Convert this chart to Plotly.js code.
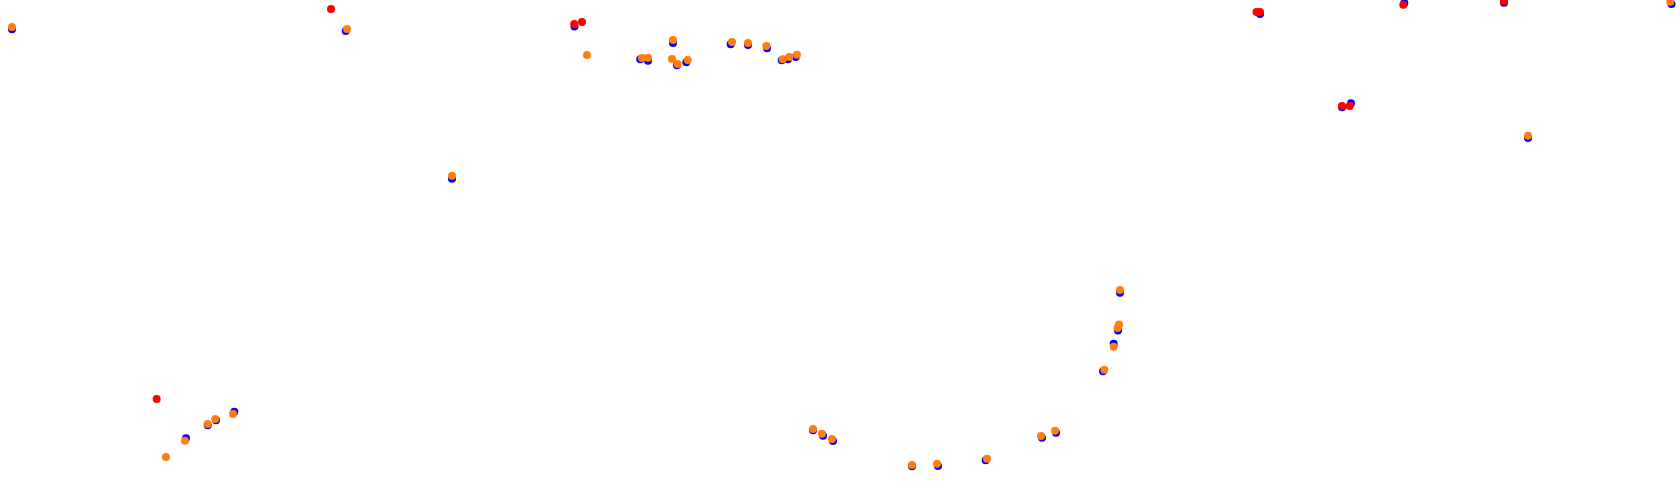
<!DOCTYPE html>
<html>
<head>
<meta charset="utf-8">
<script src="https://cdn.plot.ly/plotly-3.0.1.min.js"></script>
<style>html,body{margin:0;padding:0;background:#fff;}#chart{width:1680px;height:501px;}</style>
</head>
<body>
<div id="chart"></div>
<script>
// Series values (x, y in chart units; y grows downward)
const blueX = [12, 345.7, 574.5, 640.3, 648, 673, 677, 686.3, 730.7, 748, 767, 781.7, 788, 795.7, 452, 1260, 1404.3, 1504, 1671.5, 1342, 1351, 1528, 186, 207.7, 216, 234.3, 813, 823, 833, 912, 938, 985.7, 1042, 1056, 1103, 1113.7, 1118, 1120];
const blueY = [29.3, 31, 26.5, 59.3, 60.7, 43, 65.3, 62.3, 44.3, 45, 48.3, 60.3, 59.3, 57, 178.7, 14, 3, 2.7, 4, 107.3, 103.3, 138, 438.3, 425.3, 420.3, 411.7, 430.3, 435.7, 441, 466.3, 466, 460.3, 437.7, 432.7, 371.3, 343.7, 330.5, 292.7];

const redX = [331, 574.3, 582, 1256.5, 1260, 1403.3, 1504, 1342, 1349.7, 156.7];
const redY = [9, 24, 22, 12, 12, 4.7, 1.3, 106, 106, 399];

const orangeX = [12, 347, 587, 642, 648, 673, 672, 677.7, 687.7, 732, 748, 766.3, 782.7, 789.3, 797, 452, 1670.3, 1528, 166, 185, 207.7, 215.3, 233, 813, 822, 832, 912, 937, 987, 1041, 1055, 1104.3, 1113.7, 1117.5, 1119, 1120];
const orangeY = [27, 29, 55, 58, 57.7, 40, 59, 64, 60, 42, 43, 46, 59.3, 57, 54.7, 175.7, 1.7, 135.7, 457, 440.7, 424, 419, 414, 429, 433.7, 439, 465, 463.7, 458.7, 436, 430.7, 369.7, 346.7, 328, 324.5, 290];

const mk = (x, y, color) => ({
  x: x, y: y, type: 'scatter', mode: 'markers',
  marker: {color: color, size: 8, line: {width: 0}},
  hoverinfo: 'skip', showlegend: false
});

const data = [
  mk(blueX, blueY, '#0000ff'),
  mk(redX, redY, '#ff0000'),
  mk(orangeX, orangeY, '#ff7f0e')
];

const layout = {
  width: 1680, height: 501,
  margin: {l: 0, r: 0, t: 0, b: 0, pad: 0},
  paper_bgcolor: '#ffffff', plot_bgcolor: '#ffffff',
  showlegend: false,
  xaxis: {range: [0, 1680], visible: false, showgrid: false, zeroline: false, fixedrange: true},
  yaxis: {range: [501, 0], visible: false, showgrid: false, zeroline: false, fixedrange: true}
};

Plotly.newPlot('chart', data, layout, {displayModeBar: false, staticPlot: true});
</script>
</body>
</html>
